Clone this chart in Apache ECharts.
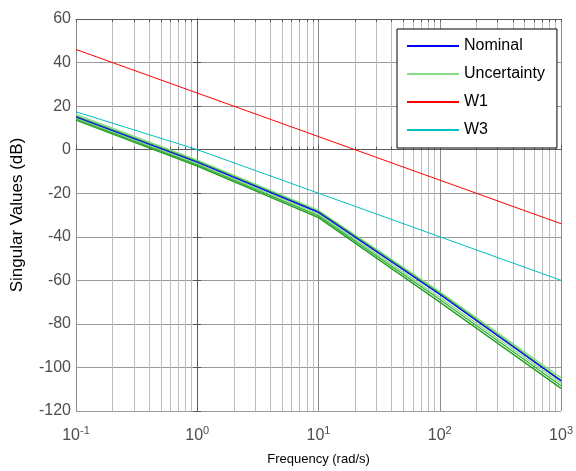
<!DOCTYPE html>
<html>
<head>
<meta charset="utf-8">
<script src="https://cdn.jsdelivr.net/npm/echarts@6/dist/echarts.min.js"></script>
<style>
html,body{margin:0;padding:0;background:#fff;}
#main{width:576px;height:471px;}
</style>
</head>
<body>
<div id="main"></div>
<script>
// frequency points (rad/s)
var freq = [0.1, 1, 10, 100, 1000];
// singular values (dB)
var nominal = [15, -5.8, -28.8, -66.5, -106.2];
var unc1 = [16.2, -4.8, -27.9, -65.3, -104.7];
var unc2 = [15.4, -5.4, -28.4, -66.0, -105.8];
var unc3 = [14.6, -6.4, -29.6, -67.8, -107.3];
var unc4 = [14.0, -7.0, -30.4, -68.8, -108.4];
var unc5 = [13.5, -7.6, -31.2, -70.0, -109.6];
var w1 = [46, 26, 6, -14, -34];
var w3 = [17.4, 0, -20, -40, -60];

var yTicks = [-120, -100, -80, -60, -40, -20, 0, 20, 40, 60];

// minor grid positions in log10 units
var minorLog = [];
var allLog = [];
for (var d = -1; d < 3; d++) {
	allLog.push(d);
	for (var k = 2; k <= 9; k++) {
		minorLog.push(d + Math.log10(k));
		allLog.push(d + Math.log10(k));
	}
}
allLog.push(3);

function pairs(vals){
	return freq.map(function(f, i){ return [f, vals[i]]; });
}

var font = "'Liberation Sans', Arial, sans-serif";
var tickColor = '#4d4d4d';
var axisColor = '#5a5a5a';

function lineSeries(name, vals, color, width, z){
	return {
		name: name,
		type: 'line',
		data: pairs(vals),
		xAxisIndex: 0,
		yAxisIndex: 0,
		symbol: 'none',
		z: z,
		lineStyle: { color: color, width: width },
		itemStyle: { color: color },
		animation: false
	};
}

var myChart = echarts.init(document.getElementById('main'));
var option = {
	animation: false,
	backgroundColor: '#fff',
	grid: { left: 76, right: 10, top: 19, bottom: 58 },
	legend: {
		orient: 'vertical',
		left: 397,
		top: 29,
		padding: [8, 12, 9, 10],
		itemWidth: 52,
		itemHeight: 2,
		itemGap: 10,
		icon: 'rect',
		backgroundColor: '#fff',
		borderColor: '#000',
		borderWidth: 1,
		borderRadius: 0,
		data: ['Nominal', 'Uncertainty', 'W1', 'W3'],
		textStyle: { fontFamily: font, fontSize: 16, color: '#000', lineHeight: 18 }
	},
	xAxis: [
		{
			type: 'log',
			logBase: 10,
			min: 0.1,
			max: 1000,
			position: 'bottom',
			name: 'Frequency (rad/s)',
			nameLocation: 'middle',
			nameGap: 42,
			nameTextStyle: { fontFamily: font, fontSize: 13, color: '#000' },
			axisLine: { show: true, lineStyle: { color: axisColor, width: 1 } },
			axisTick: { show: true, inside: true, length: 5, lineStyle: { color: axisColor } },
			splitLine: { show: true, lineStyle: { color: '#8c8c8c', width: 1 } },
			axisLabel: {
				margin: 14,
				formatter: function(v){
					var e = Math.round(Math.log10(v));
					return '{b|10}{s|' + e + '}';
				},
				rich: {
					b: { fontFamily: font, fontSize: 16, color: tickColor },
					s: { fontFamily: font, fontSize: 11, color: tickColor, padding: [0, 0, 11, 0] }
				}
			}
		},
		{
			type: 'value',
			min: -1,
			max: 3,
			position: 'bottom',
			axisLine: { show: false },
			axisLabel: { show: false },
			axisTick: { show: true, inside: true, length: 3, customValues: minorLog, lineStyle: { color: axisColor } },
			splitLine: { show: true, lineStyle: { color: '#bdbdbd', width: 1 } }
		},
		{
			type: 'value',
			min: -1,
			max: 3,
			position: 'top',
			axisLine: { show: true, lineStyle: { color: axisColor, width: 1 } },
			axisLabel: { show: false },
			axisTick: { show: true, inside: true, length: 3, customValues: allLog, lineStyle: { color: axisColor } },
			splitLine: { show: false }
		}
	],
	yAxis: [
		{
			type: 'value',
			min: -120,
			max: 60,
			interval: 20,
			position: 'left',
			name: 'Singular Values (dB)',
			nameLocation: 'middle',
			nameGap: 50,
			nameTextStyle: { fontFamily: font, fontSize: 17, color: '#000' },
			axisLine: { show: true, lineStyle: { color: axisColor, width: 1 } },
			axisTick: { show: true, inside: true, length: 4, lineStyle: { color: axisColor } },
			splitLine: { show: true, lineStyle: { color: '#9a9a9a', width: 1 } },
			axisLabel: { margin: 5, fontFamily: font, fontSize: 16, color: tickColor }
		},
		{
			type: 'value',
			min: -120,
			max: 60,
			interval: 20,
			position: 'right',
			axisLine: { show: true, lineStyle: { color: axisColor, width: 1 } },
			axisTick: { show: true, inside: true, length: 4, lineStyle: { color: axisColor } },
			axisLabel: { show: false },
			splitLine: { show: false }
		}
	],
	series: [
		lineSeries('Uncertainty', unc1, '#86dc86', 1.3, 3),
		lineSeries('Uncertainty', unc2, '#2ea62e', 1.3, 3),
		lineSeries('Uncertainty', unc3, '#86dc86', 1.3, 3),
		lineSeries('Uncertainty', unc4, '#3cb03c', 1.3, 3),
		lineSeries('Uncertainty', unc5, '#1f9e1f', 1.3, 3),
		lineSeries('Nominal', nominal, '#0000ff', 1.2, 4),
		lineSeries('W1', w1, '#ff0000', 1, 4),
		lineSeries('W3', w3, '#00bfbf', 1, 4)
	]
};
myChart.setOption(option);
</script>
</body>
</html>
